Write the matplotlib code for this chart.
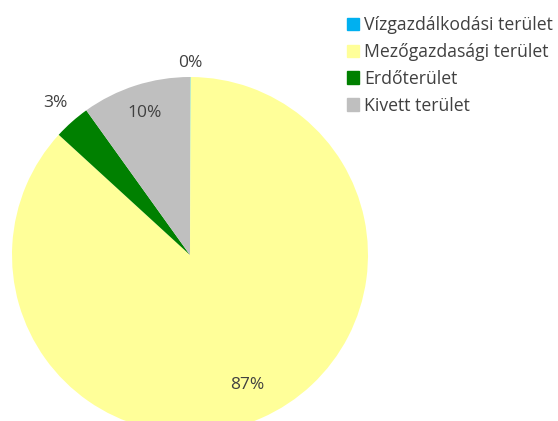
import matplotlib
matplotlib.use("Agg")
import matplotlib.pyplot as plt
import numpy as np

# land use shares (percent)
categories = ["Vízgazdálkodási terület", "Mezőgazdasági terület", "Erdőterület", "Kivett terület"]
shares = [0.05, 86.75, 3.3, 9.9]
colors = ["#00B0F0", "#FFFF99", "#008000", "#BFBFBF"]

# how far from the centre each percent label sits (in radii)
label_dist = [1.08, 0.80, 1.14, 0.84]

plt.rcParams["font.family"] = ["Open Sans", "DejaVu Sans"]
text_color = "#404040"

fig = plt.figure(figsize=(5.58, 4.21), dpi=100)
ax = fig.add_axes([12 / 558, (421 - 255 - 178) / 421, 356 / 558, 356 / 421])

wedges, _ = ax.pie(shares, colors=colors, startangle=90, counterclock=False,
                   radius=1, wedgeprops=dict(linewidth=0))
ax.set_xlim(-1, 1)
ax.set_ylim(-1, 1)
ax.set_aspect("equal")
ax.axis("off")
for w in wedges:
    w.set_clip_on(False)

for w, val, d in zip(wedges, shares, label_dist):
    mid = np.deg2rad((w.theta1 + w.theta2) / 2)
    ax.text(d * np.cos(mid), d * np.sin(mid), "%.0f%%" % val,
            ha="center", va="center", fontsize=12.5, color=text_color)

handles = [plt.Rectangle((0, 0), 1, 1, color=c) for c in colors]
fig.legend(handles, categories, loc="upper left",
           bbox_to_anchor=(340 / 558, 1 - 9 / 421), frameon=False,
           handlelength=0.7, handleheight=0.7, handletextpad=0.25,
           labelspacing=0.5, fontsize=12.7, labelcolor=text_color,
           borderaxespad=0)

fig.savefig("out.png", dpi=100)
